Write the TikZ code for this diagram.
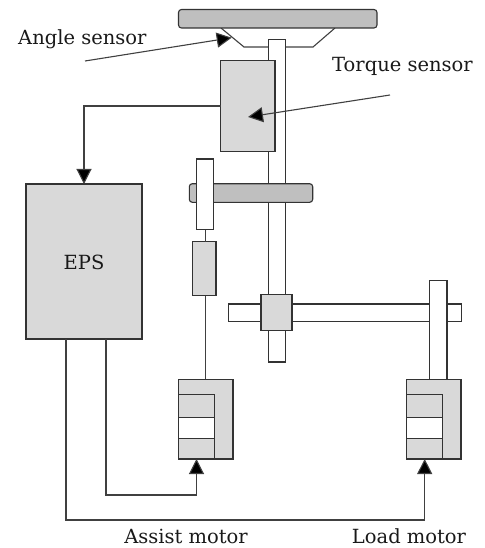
\documentclass[tikz,border=0pt]{standalone}
\usepackage{fontspec}
\setmainfont{DejaVu Serif}
\usetikzlibrary{arrows.meta}
\tikzset{
  base/.style={draw=black!80,line width=1.1pt,inner sep=0pt,outer sep=0pt},
  whitebox/.style={base,fill=white},
  graybox/.style={base,fill=black!15},
  wheelbox/.style={base,fill=black!25,rounded corners=3pt},
  conn/.style={draw=black!75,line width=1.1pt},
  tip/.style={conn,-{Triangle[length=15pt,width=15pt,fill=black]}},
  lab/.style={font=\fontsize{19.5pt}{22pt}\selectfont,inner sep=0pt,text=black!90},
}
\begin{document}
\begin{tikzpicture}[x=1pt,y=-1pt]
\useasboundingbox (0,0) rectangle (484,548);
% bracket under the steering wheel
\coordinate (b1) at (221,28);
\coordinate (b2) at (244,47);
\coordinate (b3) at (313,47);
\coordinate (b4) at (335,28);
\draw[conn] (b1) -- (b2) -- (b3) -- (b4);
% shafts and blocks
\node[whitebox,minimum width=17.5pt,minimum height=322.5pt] (shaft) at (277,200.75) {};
\node[wheelbox,minimum width=198.5pt,minimum height=18.5pt] (wheelA) at (277.75,18.75) {};
\node[graybox,minimum width=54.5pt,minimum height=91pt] (torque) at (247.75,106) {};
\node[wheelbox,minimum width=123.4pt,minimum height=18.6pt] (wheelB) at (251,193) {};
\node[whitebox,minimum width=17pt,minimum height=70.7pt] (gearshaft) at (205.2,194.35) {};
\node[graybox,minimum width=23.3pt,minimum height=54pt] (small) at (204.35,268.7) {};
\node[whitebox,minimum width=233pt,minimum height=17.5pt] (bar) at (345,312.75) {};
\node[graybox,minimum width=31pt,minimum height=35.6pt] (block) at (276.5,312.5) {};
\node[whitebox,minimum width=17.3pt,minimum height=99.3pt] (rshaft) at (438.35,330.35) {};
\node[graybox,minimum width=116pt,minimum height=155pt] (eps) at (84,261.5) {};
\node[lab] (epslabel) at (84,262.5) {EPS};
% assist motor
\node[graybox,minimum width=54.7pt,minimum height=79.7pt] (mA) at (205.65,419.15) {};
\node[graybox,minimum width=36.4pt,minimum height=23.4pt] (mAa) at (196.5,406) {};
\node[whitebox,minimum width=36.4pt,minimum height=21pt] (mAb) at (196.5,428.2) {};
\node[graybox,minimum width=36.4pt,minimum height=20.3pt] (mAc) at (196.5,448.85) {};
% load motor
\node[graybox,minimum width=54.3pt,minimum height=79.7pt] (mB) at (433.85,419.15) {};
\node[graybox,minimum width=36pt,minimum height=23.4pt] (mBa) at (424.7,406) {};
\node[whitebox,minimum width=36pt,minimum height=21pt] (mBb) at (424.7,428.2) {};
\node[graybox,minimum width=36pt,minimum height=20.3pt] (mBc) at (424.7,448.85) {};
% connectors
\draw[conn] (gearshaft.south) -- (gearshaft.south |- small.north);
\draw[conn] (mA.north) -- (mA.north |- small.south);
\draw[tip] (torque.west) -| (eps.north);
\coordinate (epsA) at (106,339);
\coordinate (epsB) at (66,339);
\coordinate (turnA) at (196.5,495);
\coordinate (turnB) at (424.7,520);
\draw[tip] (epsA) |- (turnA) -- (mAc.south);
\draw[tip] (epsB) |- (turnB) -- (mBc.south);
% labels
\node[lab,anchor=west] (angle) at (18,39.5) {Angle sensor};
\node[lab,anchor=west] (tq) at (332,66) {Torque sensor};
\node[lab] (assist) at (186,536) {Assist motor};
\node[lab] (load) at (409,536) {Load motor};
% pointers
\coordinate (angleFrom) at (85,61);
\coordinate (angleTip) at (231.7,37.7);
\coordinate (torqueFrom) at (390,95);
\coordinate (torqueTip) at (248,117);
\draw[tip] (angleFrom) -- (angleTip);
\draw[tip] (torqueFrom) -- (torqueTip);
\end{tikzpicture}
\end{document}
